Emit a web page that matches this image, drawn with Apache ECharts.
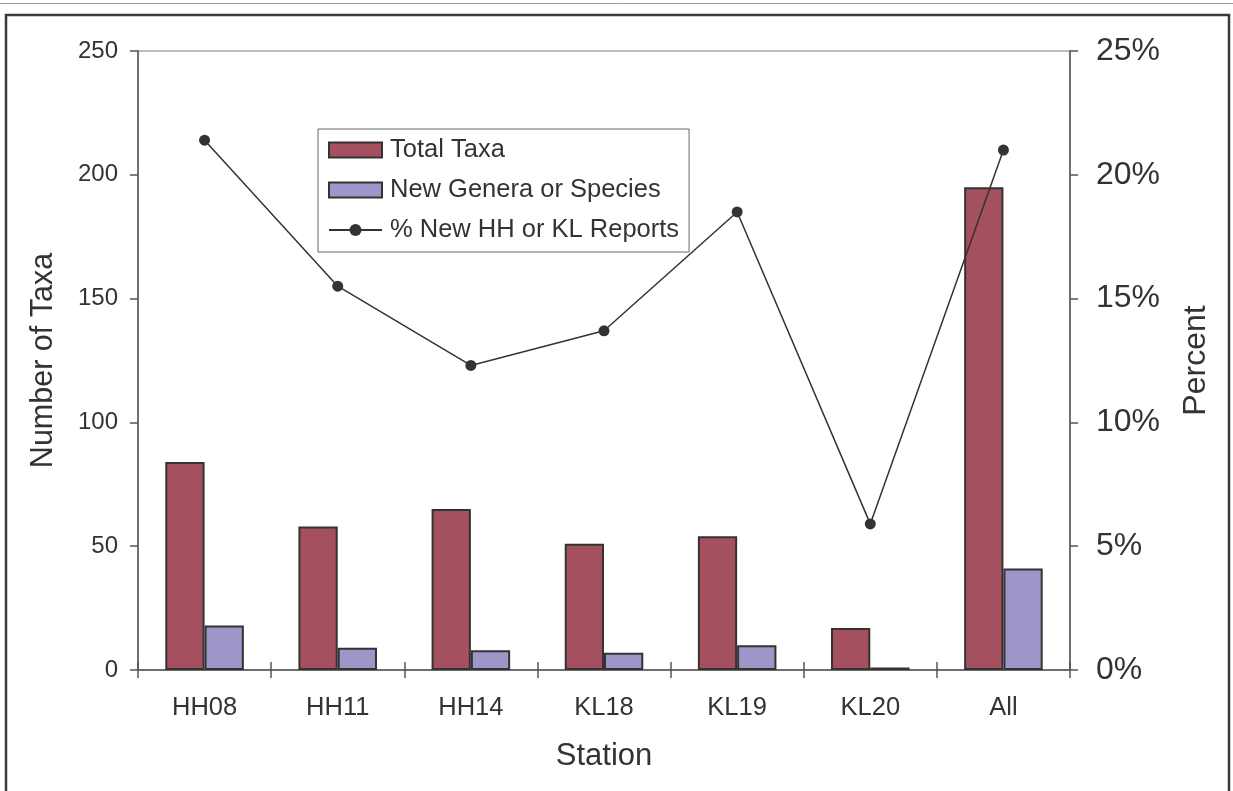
<!DOCTYPE html>
<html>
<head>
<meta charset="utf-8">
<script src="https://cdn.jsdelivr.net/npm/echarts@6/dist/echarts.min.js"></script>
<style>
html,body{margin:0;padding:0;background:#fff;}
#chart{width:1233px;height:791px;}
</style>
</head>
<body>
<div id="chart"></div>
<script>
const categories = ['HH08','HH11','HH14','KL18','KL19','KL20','All'];
const totalTaxa = [84, 58, 65, 51, 54, 17, 195];
const newGenera = [18, 9, 8, 7, 10, 1, 41];
const pctNew = [21.4, 15.5, 12.3, 13.7, 18.5, 5.9, 21.0];
const leftTicks = {min: 0, max: 250, interval: 50};
const rightTicks = {min: 0, max: 25, interval: 5};

const FONT = '"Liberation Sans", Arial, sans-serif';
const TXT = '#333';

const chart = echarts.init(document.getElementById('chart'));
chart.setOption({
  animation: false,
  backgroundColor: '#fff',
  textStyle: {fontFamily: FONT, color: TXT},
  graphic: [
    {type: 'line', shape: {x1: 0, y1: 3.5, x2: 1233, y2: 3.5}, style: {stroke: '#999', lineWidth: 1}, silent: true},
    {type: 'polyline', shape: {points: [[6, 800], [6, 15], [1229, 15], [1229, 800]]}, style: {stroke: '#3a3a3a', lineWidth: 2.5, fill: null}, silent: true}
  ],
  grid: {left: 138, right: 163, top: 51, bottom: 121, show: true, borderColor: '#b3a79f', borderWidth: 1.5},
  legend: {
    orient: 'vertical',
    left: 318, top: 129,
    padding: [6, 10, 7, 10],
    itemWidth: 53, itemHeight: 15, itemGap: 10,
    backgroundColor: '#fff',
    borderColor: '#666', borderWidth: 1,
    textStyle: {fontFamily: FONT, fontSize: 25.5, color: TXT, lineHeight: 30, padding: [0, 0, 0, 3]},
    data: [
      {name: 'Total Taxa', icon: 'rect'},
      {name: 'New Genera or Species', icon: 'rect'},
      {name: '% New HH or KL Reports'}
    ]
  },
  xAxis: [
    {
      type: 'category', data: categories, position: 'bottom',
      name: 'Station', nameLocation: 'middle', nameGap: 71,
      nameTextStyle: {fontFamily: FONT, fontSize: 31, color: TXT},
      axisLine: {lineStyle: {color: '#555', width: 1.5}},
      axisTick: {show: true, length: 8, lineStyle: {color: '#555', width: 1.5}},
      axisLabel: {fontFamily: FONT, fontSize: 25.5, color: TXT, margin: 25}
    },
    {
      type: 'category', data: categories, position: 'bottom', gridIndex: 0,
      axisLine: {show: false},
      axisTick: {show: true, inside: true, length: 8, lineStyle: {color: '#555', width: 1.5}},
      axisLabel: {show: false}
    }
  ],
  yAxis: [
    {
      type: 'value', min: leftTicks.min, max: leftTicks.max, interval: leftTicks.interval,
      name: 'Number of Taxa', nameLocation: 'middle', nameGap: 79, nameRotate: 90,
      nameTextStyle: {fontFamily: FONT, fontSize: 30.5, color: TXT},
      axisLine: {show: true, lineStyle: {color: '#555', width: 1.5}},
      axisTick: {show: true, length: 8, lineStyle: {color: '#555', width: 1.5}},
      axisLabel: {fontFamily: FONT, fontSize: 24, color: TXT, margin: 20},
      splitLine: {show: false}
    },
    {
      type: 'value', min: rightTicks.min, max: rightTicks.max, interval: rightTicks.interval,
      position: 'right',
      name: 'Percent', nameLocation: 'middle', nameGap: 110, nameRotate: 90,
      nameTextStyle: {fontFamily: FONT, fontSize: 32, color: TXT},
      axisLine: {show: true, lineStyle: {color: '#555', width: 1.5}},
      axisTick: {show: true, length: 8, lineStyle: {color: '#555', width: 1.5}},
      axisLabel: {fontFamily: FONT, fontSize: 32, color: TXT, margin: 26, formatter: '{value}%'},
      splitLine: {show: false}
    }
  ],
  series: [
    {
      name: 'Total Taxa', type: 'bar', data: totalTaxa,
      barGap: '0%', barCategoryGap: '41%',
      itemStyle: {color: '#a5505e', borderColor: '#333', borderWidth: 2}
    },
    {
      name: 'New Genera or Species', type: 'bar', data: newGenera,
      itemStyle: {color: '#9d97c9', borderColor: '#333', borderWidth: 2}
    },
    {
      name: '% New HH or KL Reports', type: 'line', yAxisIndex: 1, data: pctNew,
      symbol: 'circle', symbolSize: 11,
      lineStyle: {color: '#333', width: 1.5},
      itemStyle: {color: '#333'}
    }
  ]
});
</script>
</body>
</html>
